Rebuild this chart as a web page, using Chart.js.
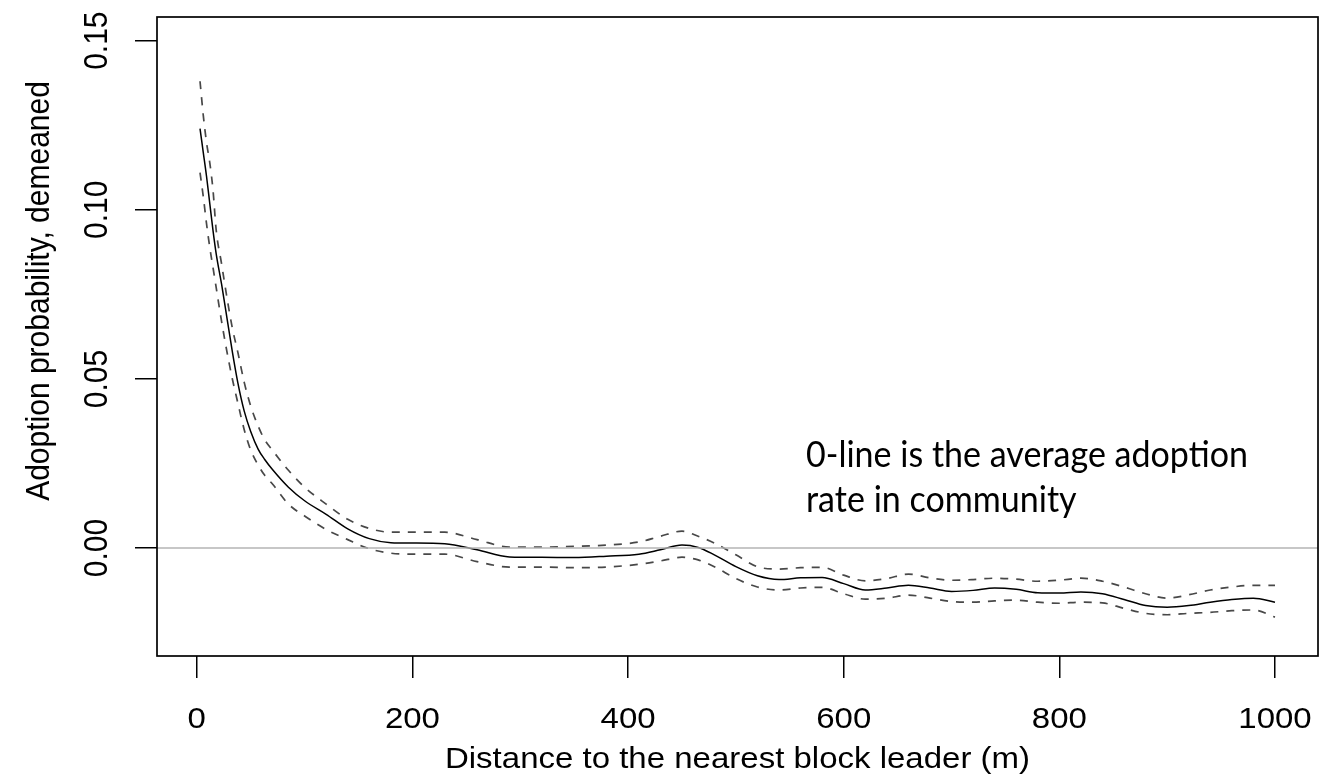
<!DOCTYPE html>
<html>
<head>
<meta charset="utf-8">
<script src="https://cdn.jsdelivr.net/npm/chart.js@4.4.0/dist/chart.umd.min.js"></script>
<style>
  html, body { margin: 0; padding: 0; background: #fff; }
  #wrap { width: 1321px; height: 776px; }
</style>
</head>
<body>
<div id="wrap"><canvas id="chart" width="1321" height="776"></canvas></div>
<script>
// distance to nearest block leader (m) and the smoothed fit with its band
const distance = [3, 6, 9, 12, 15, 18, 23, 28, 33, 38, 44, 50, 57, 63, 70, 85, 100, 120, 140, 160, 180,
  200, 230, 260, 290, 320, 350, 380, 410, 430, 450, 465, 480, 500, 520, 540, 560, 580, 600, 620, 640,
  660, 680, 700, 720, 740, 760, 780, 800, 820, 840, 860, 880, 900, 920, 940, 960, 980, 1000];

const fit = [0.124, 0.117, 0.110, 0.102, 0.094, 0.087, 0.078, 0.068, 0.058, 0.049, 0.0405, 0.0345, 0.0292, 0.0262, 0.0233, 0.018, 0.014, 0.010, 0.0057, 0.0028, 0.0016,
  0.0015, 0.0013, -0.0005, -0.0026, -0.0027, -0.0028, -0.0024, -0.0018, -0.0005, 0.0009, 0.0002, -0.002, -0.0055, -0.0082, -0.0093, -0.0088, -0.0087, -0.0105, -0.0124, -0.0118,
  -0.011, -0.0118, -0.0128, -0.0125, -0.0118, -0.0122, -0.0132, -0.0133, -0.013, -0.0135, -0.0152, -0.017, -0.0175, -0.017, -0.016, -0.0152, -0.0148, -0.016];

const upper = [0.138, 0.128, 0.120, 0.114, 0.106, 0.094, 0.084, 0.074, 0.065, 0.058, 0.049, 0.042, 0.036, 0.032, 0.029, 0.023, 0.018, 0.013, 0.0085, 0.0058, 0.0047,
  0.0047, 0.0047, 0.0025, 0.0003, 0.0003, 0.0005, 0.0009, 0.0018, 0.0035, 0.005, 0.0035, 0.0015, -0.002, -0.0055, -0.0062, -0.0058, -0.0057, -0.008, -0.0097, -0.009,
  -0.0077, -0.0088, -0.0095, -0.0093, -0.0089, -0.0092, -0.0098, -0.0095, -0.0089, -0.0098, -0.0115, -0.0135, -0.0148, -0.0138, -0.0124, -0.0115, -0.011, -0.011];

const lower = [0.111, 0.104, 0.096, 0.089, 0.083, 0.077, 0.067, 0.058, 0.050, 0.043, 0.035, 0.029, 0.0245, 0.0215, 0.019, 0.013, 0.0095, 0.0055, 0.0025, -0.0002, -0.0015,
  -0.0018, -0.0018, -0.004, -0.0056, -0.0056, -0.0058, -0.0056, -0.0048, -0.0038, -0.0027, -0.0035, -0.0055, -0.009, -0.0115, -0.0124, -0.0118, -0.0116, -0.0135, -0.0151, -0.0148,
  -0.0139, -0.0148, -0.0158, -0.016, -0.0156, -0.0154, -0.016, -0.0163, -0.016, -0.0162, -0.0178, -0.0193, -0.0197, -0.0193, -0.019, -0.0185, -0.0183, -0.0204];

const xTicks = [0, 200, 400, 600, 800, 1000];
const xTickLabels = ['0', '200', '400', '600', '800', '1000'];
const yTicks = [0, 0.05, 0.10, 0.15];
const yTickLabels = ['0.00', '0.05', '0.10', '0.15'];
const xRange = [-36.9, 1039.9];
const yRange = [-0.0319, 0.157];

const xTitle = 'Distance to the nearest block leader (m)';
const yTitle = 'Adoption probability, demeaned';
const noteLines = ['0-line is the average adoption', 'rate in community'];

const AXIS_FONT = '30px "Liberation Sans", Arial, sans-serif';
const NOTE_FONT = '37px Lato, "Open Sans", sans-serif';
const STRETCH = 1.1; // the figure is a little wider than it is tall

function toPoints(ys) {
    return distance.map((d, i) => ({ x: d, y: ys[i] }));
}

// text drawn at (x, y), widened like the rest of the figure, optionally turned
function drawText(ctx, text, x, y, rotated) {
    ctx.save();
    ctx.translate(x, y);
    ctx.scale(STRETCH, 1);
    if (rotated) ctx.rotate(-Math.PI / 2);
    ctx.fillText(text, 0, 0);
    ctx.restore();
}

// box, tick labels, axis titles and the note, drawn like R base graphics
const rFrame = {
    id: 'rFrame',
    afterDraw(chart) {
        const ctx = chart.ctx;
        const area = chart.chartArea;
        const xScale = chart.scales.x;
        const yScale = chart.scales.y;
        ctx.save();

        ctx.strokeStyle = '#000';
        ctx.lineWidth = 1.7;
        ctx.strokeRect(area.left, area.top, area.right - area.left, area.bottom - area.top);

        ctx.fillStyle = '#000';
        ctx.font = AXIS_FONT;
        ctx.textAlign = 'center';
        ctx.textBaseline = 'middle';
        yTicks.forEach((v, i) => {
            drawText(ctx, yTickLabels[i], 98, yScale.getPixelForValue(v), true);
        });
        drawText(ctx, yTitle, 40, 291, true);

        ctx.textBaseline = 'alphabetic';
        xTicks.forEach((v, i) => {
            drawText(ctx, xTickLabels[i], xScale.getPixelForValue(v), 728, false);
        });
        drawText(ctx, xTitle, (area.left + area.right) / 2, 768, false);

        // annotation, squeezed to the width it has in the figure
        ctx.textAlign = 'left';
        ctx.font = NOTE_FONT;
        const squeeze = 442 / ctx.measureText(noteLines[0]).width;
        [[noteLines[0], 467], [noteLines[1], 512]].forEach(([t, by]) => {
            ctx.save();
            ctx.translate(806, by);
            ctx.scale(squeeze, 1);
            ctx.fillText(t, 0, 0);
            ctx.restore();
        });

        ctx.restore();
    }
};

new Chart(document.getElementById('chart'), {
    type: 'line',
    data: {
        datasets: [
            {
                label: 'zero',
                data: [{ x: xRange[0], y: 0 }, { x: xRange[1], y: 0 }],
                borderColor: '#b4b4b4',
                borderWidth: 1.5,
                pointRadius: 0
            },
            {
                label: 'upper',
                data: toPoints(upper),
                borderColor: '#484848',
                borderWidth: 1.7,
                borderDash: [8, 8],
                pointRadius: 0,
                cubicInterpolationMode: 'monotone'
            },
            {
                label: 'lower',
                data: toPoints(lower),
                borderColor: '#484848',
                borderWidth: 1.7,
                borderDash: [8, 8],
                pointRadius: 0,
                cubicInterpolationMode: 'monotone'
            },
            {
                label: 'fit',
                data: toPoints(fit),
                borderColor: '#000',
                borderWidth: 1.5,
                pointRadius: 0,
                cubicInterpolationMode: 'monotone'
            }
        ]
    },
    options: {
        responsive: false,
        animation: false,
        events: [],
        layout: { padding: { top: 17, right: 3, left: 0, bottom: 0 } },
        plugins: {
            legend: { display: false },
            tooltip: { enabled: false }
        },
        scales: {
            x: {
                type: 'linear',
                min: xRange[0],
                max: xRange[1],
                afterBuildTicks: scale => { scale.ticks = xTicks.map(v => ({ value: v })); },
                afterFit: scale => { scale.height = 120; },
                grid: { display: true, drawOnChartArea: false, drawTicks: true, tickLength: 22, color: '#000', lineWidth: 1.5 },
                border: { display: false },
                ticks: { display: false }
            },
            y: {
                type: 'linear',
                min: yRange[0],
                max: yRange[1],
                afterBuildTicks: scale => { scale.ticks = yTicks.map(v => ({ value: v })); },
                afterFit: scale => { scale.width = 157; },
                grid: { display: true, drawOnChartArea: false, drawTicks: true, tickLength: 22, color: '#000', lineWidth: 1.5 },
                border: { display: false },
                ticks: { display: false }
            }
        }
    },
    plugins: [rFrame]
});
</script>
</body>
</html>
